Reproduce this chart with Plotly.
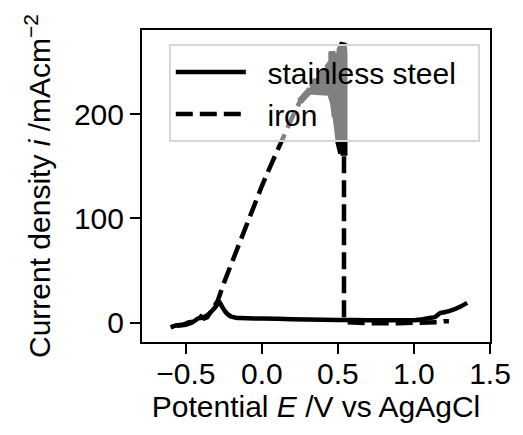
import plotly.graph_objects as go

# Stainless steel polarisation curve (potential in V vs Ag/AgCl, current density in mA cm^-2)
E_ss = [-0.60, -0.56, -0.52, -0.48, -0.45, -0.42, -0.39, -0.36, -0.33, -0.30, -0.28,
        -0.26, -0.24, -0.22, -0.20, -0.17, -0.14, -0.10, 0.00, 0.20, 0.40, 0.60,
        0.80, 1.00, 1.05, 1.10, 1.14, 1.17, 1.20, 1.25, 1.30, 1.35]
i_ss = [-4.5, -2.5, -2.0, 0.5, 1.0, 4.0, 5.0, 7.0, 11.0, 16.0, 20.0,
        15.0, 10.5, 7.5, 5.8, 4.8, 4.4, 4.2, 4.0, 3.4, 2.9, 2.5,
        2.3, 2.4, 3.0, 4.5, 5.5, 9.0, 10.0, 12.0, 15.0, 19.0]

# Iron polarisation curve: linear rise, strongly fluctuating dissolution region,
# sudden passivation at about 0.54 V
E_fe = [-0.56, -0.50, -0.46, -0.42, -0.40, -0.38, -0.36, -0.34, -0.31, -0.29,
        -0.25, -0.20, -0.15, -0.10, -0.05, 0.00, 0.05, 0.10, 0.15, 0.20, 0.25,
        0.31, 0.53, 0.53, 0.33, 0.35, 0.535, 0.535, 0.38, 0.41, 0.535, 0.535, 0.43,
        0.455, 0.535, 0.535, 0.46, 0.46, 0.47, 0.51, 0.515, 0.535, 0.54, 0.54, 0.46,
        0.47, 0.54, 0.54, 0.475, 0.48, 0.54, 0.54, 0.49, 0.495, 0.54, 0.54, 0.50,
        0.505, 0.54, 0.54, 0.51, 0.52, 0.54, 0.54,
        0.54, 0.54, 0.54, 0.56, 0.70, 0.90, 1.10, 1.15, 1.20, 1.23]
i_fe = [-3.0, -2.0, 0.0, 3.0, 6.0, 4.0, 5.0, 10.0, 16.0, 21.0,
        38.0, 57.0, 76.0, 95.0, 113.0, 131.0, 148.0, 165.0, 181.0, 197.0, 212.0,
        222.0, 220.0, 226.0, 226.0, 231.0, 230.0, 235.0, 235.0, 240.0, 239.0, 244.0, 244.0,
        249.0, 249.0, 254.0, 254.0, 260.0, 254.0, 256.0, 262.0, 268.0, 258.0, 216.0, 216.0,
        211.0, 211.0, 206.0, 206.0, 200.0, 200.0, 195.0, 195.0, 189.0, 189.0, 183.0, 183.0,
        177.0, 177.0, 171.0, 171.0, 165.0, 165.0, 160.0,
        100.0, 40.0, 3.0, 0.5, -0.5, -0.5, -0.3, 0.5, 1.5, 1.5]

# index range of the densely oscillating part of the iron scan (active dissolution region)
noisy = slice(20, 64)

BLACK = "#000000"
FONT = "Liberation Sans, Arial, sans-serif"
FS = 30
NB = "\u00a0"

fig = go.Figure()
fig.add_trace(go.Scatter(
    x=E_ss, y=i_ss, mode="lines", name=NB * 2 + "stainless steel" + NB * 2,
    line=dict(color=BLACK, width=4.5, shape="spline", smoothing=0.6),
))
fig.add_trace(go.Scatter(
    x=E_fe, y=i_fe, mode="lines", name=NB * 2 + "iron",
    line=dict(color=BLACK, width=4.5, dash="17px,7px"),
))
# the rapid oscillations merge into a solid band
fig.add_trace(go.Scatter(
    x=E_fe[noisy], y=i_fe[noisy], mode="lines", showlegend=False,
    line=dict(color=BLACK, width=7),
))

axis_common = dict(
    showline=True, linecolor=BLACK, linewidth=2, mirror=True,
    ticks="outside", ticklen=10, tickwidth=2, tickcolor=BLACK,
    showgrid=False, zeroline=False,
    tickfont=dict(family=FONT, size=FS, color=BLACK),
)

fig.update_layout(
    width=523, height=435,
    margin=dict(l=142, r=29, t=30, b=93),
    paper_bgcolor="white", plot_bgcolor="white",
    font=dict(family=FONT, size=FS, color=BLACK),
    xaxis=dict(
        range=[-0.788, 1.5], tickmode="array",
        tickvals=[-0.5, 0.0, 0.5, 1.0, 1.5], tickformat=".1f",
        ticklabelstandoff=-6,
        title=dict(text="Potential <i>E</i> /V vs AgAgCl",
                   font=dict(family=FONT, size=FS, color=BLACK), standoff=6),
        **axis_common,
    ),
    yaxis=dict(
        range=[-18.5, 280.6], tickmode="array", tickvals=[0, 100, 200],
        title=dict(text="Current density <i>i</i> /mAcm<sup>−2</sup>",
                   font=dict(family=FONT, size=FS, color=BLACK), standoff=14),
        **axis_common,
    ),
    legend=dict(
        x=0.077, y=0.955, xanchor="left", yanchor="top",
        bgcolor="rgba(255,255,255,0.5)", bordercolor="#d6d6d6", borderwidth=2,
        font=dict(family=FONT, size=FS, color=BLACK),
        itemwidth=70, tracegroupgap=0,
    ),
)

fig.write_html("out.html")
